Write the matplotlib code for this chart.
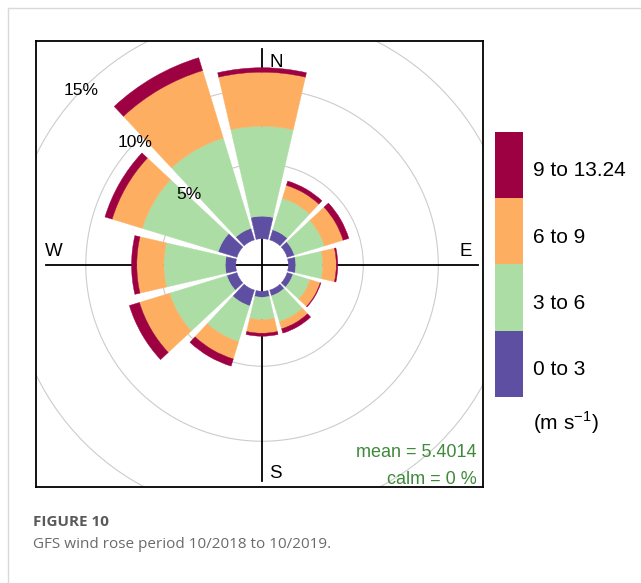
import numpy as np
import matplotlib.pyplot as plt
from matplotlib.patches import Wedge, Circle
from matplotlib.lines import Line2D

plt.rcParams['font.family'] = ['Liberation Sans', 'DejaVu Sans']
plt.rcParams['mathtext.fontset'] = 'custom'
plt.rcParams['mathtext.rm'] = 'Liberation Sans'

# wind direction sectors (degrees from north, 30 degree bins)
directions = [0, 30, 60, 90, 120, 150, 180, 210, 240, 270, 300, 330]
speed_bins = ['0 to 3', '3 to 6', '6 to 9', '9 to 13.24']
bin_colors = ['#5E4FA2', '#ABDDA4', '#FDAE61', '#9E0142']

# frequency of occurrence (%) per sector for each speed bin
freq_0_3 = [1.5, 0.7, 0.5, 0.5, 0.4, 0.4, 0.4, 1.1, 0.7, 0.7, 1.3, 0.8]
freq_3_6 = [6.0, 2.2, 2.1, 1.8, 1.2, 1.8, 1.5, 2.5, 4.0, 4.1, 5.3, 6.3]
freq_6_9 = [3.6, 0.9, 1.3, 0.9, 0.7, 0.5, 0.9, 1.2, 2.1, 1.8, 2.1, 4.7]
freq_9_13 = [0.3, 0.3, 0.4, 0.1, 0.05, 0.3, 0.2, 0.5, 0.7, 0.35, 0.5, 0.9]

grid_levels = [5, 10, 15]
mean_speed = 5.4014
calm_pct = 0

offset = 1.75      # radius of the empty centre, in % units
half_width = 13    # half angular width of each paddle
axis_len = 14.4

fig = plt.figure(figsize=(6.41, 5.83), dpi=100)

# light page frame
fig.add_artist(Line2D([8/641, 8/641], [0, 1 - 8/583], color='#d9d9d9', lw=1))
fig.add_artist(Line2D([8/641, 1], [1 - 8/583, 1 - 8/583], color='#d9d9d9', lw=1))

ax = fig.add_axes([36/641, 96/583, 447/641, 446/583])
ax.set_xlim(-15.07, 14.73)
ax.set_ylim(-14.8, 14.93)
ax.set_xticks([])
ax.set_yticks([])
for s in ax.spines.values():
    s.set_linewidth(1.3)
    s.set_color('black')

# grid circles
for lvl in grid_levels:
    ax.add_patch(Circle((0, 0), offset + lvl, fill=False, ec='#cccccc', lw=0.8, zorder=1))

# compass cross
ax.plot([0, 0], [-axis_len, axis_len], color='black', lw=1.3, zorder=2)
ax.plot([-axis_len, axis_len], [0, 0], color='black', lw=1.3, zorder=2)

# stacked paddles
series = [freq_0_3, freq_3_6, freq_6_9, freq_9_13]
for i, d in enumerate(directions):
    base = offset
    for j, vals in enumerate(series):
        f = vals[i]
        top = base + f
        ax.add_patch(Wedge((0, 0), top, 90 - d - half_width, 90 - d + half_width,
                           width=f, fc=bin_colors[j], ec=bin_colors[j], lw=0.3, zorder=3))
        base = top

# percentage labels along the NW diagonal
ang = np.deg2rad(314)
for lvl in grid_levels:
    r = offset + lvl
    ax.text(r * np.sin(ang), r * np.cos(ang), f'{lvl}%', ha='center', va='center',
            fontsize=12.5, zorder=5)

ax.text(0.5, 13.53, 'N', ha='left', va='center', fontsize=13.5, zorder=5)
ax.text(0.5, -13.87, 'S', ha='left', va='center', fontsize=13.5, zorder=5)
ax.text(-13.9, 0.87, 'W', ha='center', va='center', fontsize=13.5, zorder=5)
ax.text(13.6, 0.87, 'E', ha='center', va='center', fontsize=13.5, zorder=5)

ax.text(14.33, -12.47, f'mean = {mean_speed}', ha='right', va='center',
        fontsize=13, color='#3f8a3a', zorder=5)
ax.text(14.33, -14.33, f'calm = {calm_pct} %', ha='right', va='center',
        fontsize=13, color='#3f8a3a', zorder=5)

# colour key
kax = fig.add_axes([495/641, 186/583, 28/641, 265.3/583])
kax.bar([0] * len(speed_bins), [1] * len(speed_bins), bottom=range(len(speed_bins)),
        width=1, color=bin_colors)
kax.set_xlim(-0.5, 0.5)
kax.set_ylim(0, len(speed_bins))
kax.axis('off')
for i, lab in enumerate(speed_bins):
    kax.text(0.86, i + 0.41, lab, ha='left', va='center', fontsize=15, clip_on=False)
kax.text(0.86, -0.38, '(m s$^{-1}$)', ha='left', va='center', fontsize=15, clip_on=False)

# caption
fig.text(33/641, 1 - 522/583, 'FIGURE 10', ha='left', va='center', fontsize=11,
         fontweight='bold', family='Open Sans', color='#5a5a5a')
fig.text(33/641, 1 - 544/583, 'GFS wind rose period 10/2018 to 10/2019.', ha='left',
         va='center', fontsize=11, family='Open Sans', color='#6a6a6a')

fig.savefig('out.png', dpi=100)
